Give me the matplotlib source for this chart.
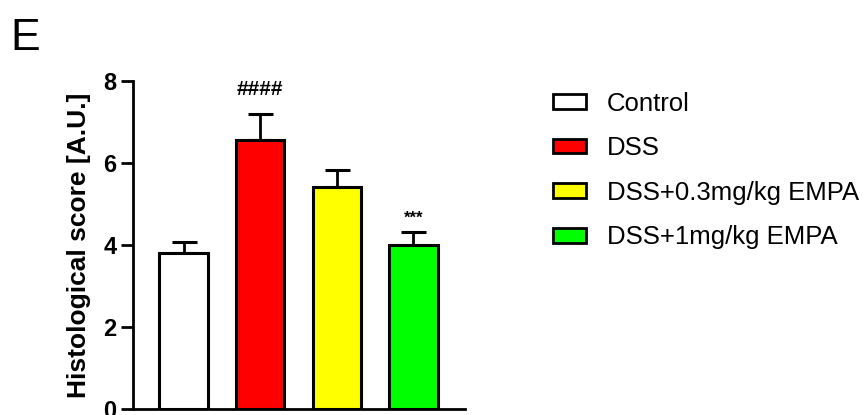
"""
Histological score bar chart
"""
import matplotlib
import matplotlib.pyplot as plt
from matplotlib.patches import Patch
matplotlib.use('Agg')

plt.rcParams['font.family'] = ['Liberation Sans', 'DejaVu Sans']

groups = ['Control', 'DSS', 'DSS+0.3mg/kg EMPA', 'DSS+1mg/kg EMPA']
means = [3.81, 6.56, 5.41, 4.01]
errors = [0.26, 0.64, 0.42, 0.31]
colors = ['#ffffff', '#ff0000', '#ffff00', '#00ff00']
marks = ['', '####', '', '***']
yticks = [0, 2, 4, 6, 8]

fig = plt.figure(figsize=(8.64, 4.15), dpi=100)
ax = fig.add_axes([0.154, 0.0145, 0.384, 0.79])

x = list(range(len(groups)))
ax.bar(x, means, width=0.63, color=colors, edgecolor='black', linewidth=2.2, zorder=2)
ax.errorbar(x, means, yerr=[[0] * len(errors), errors], fmt='none', ecolor='black',
            elinewidth=2.0, capsize=9, capthick=2.2, zorder=1)

# significance marks
for xi, m, e, mk in zip(x, means, errors, marks):
    if mk == '####':
        ax.text(xi, 7.8, mk, ha='center', va='center', fontsize=15, fontweight='bold')
    elif mk:
        ax.text(xi, m + e + 0.33, mk, ha='center', va='center', fontsize=12, fontweight='bold')

ax.set_xlim(-0.66, 3.67)
ax.set_ylim(0, 8)
ax.set_yticks(yticks)
ax.set_xticks([])
ax.spines['top'].set_visible(False)
ax.spines['right'].set_visible(False)
ax.spines['left'].set_linewidth(2.0)
ax.spines['bottom'].set_linewidth(2.0)
ax.tick_params(axis='y', length=9, width=2.0, labelsize=17, pad=3)
for lab in ax.get_yticklabels():
    lab.set_fontweight('bold')
ax.set_ylabel('Histological score [A.U.]', fontsize=19, fontweight='bold', labelpad=9)
ax.patch.set_visible(False)

fig.text(0.012, 0.88, 'E', fontsize=32)

handles = [Patch(facecolor=c, edgecolor='black', linewidth=2.0) for c in colors]
fig.legend(handles, groups, loc='upper left', bbox_to_anchor=(0.625, 0.81),
           frameon=False, fontsize=18.5, handlelength=1.3, handleheight=0.5,
           handletextpad=0.8, labelspacing=0.8, borderpad=0)

fig.savefig('out.png', dpi=100)
